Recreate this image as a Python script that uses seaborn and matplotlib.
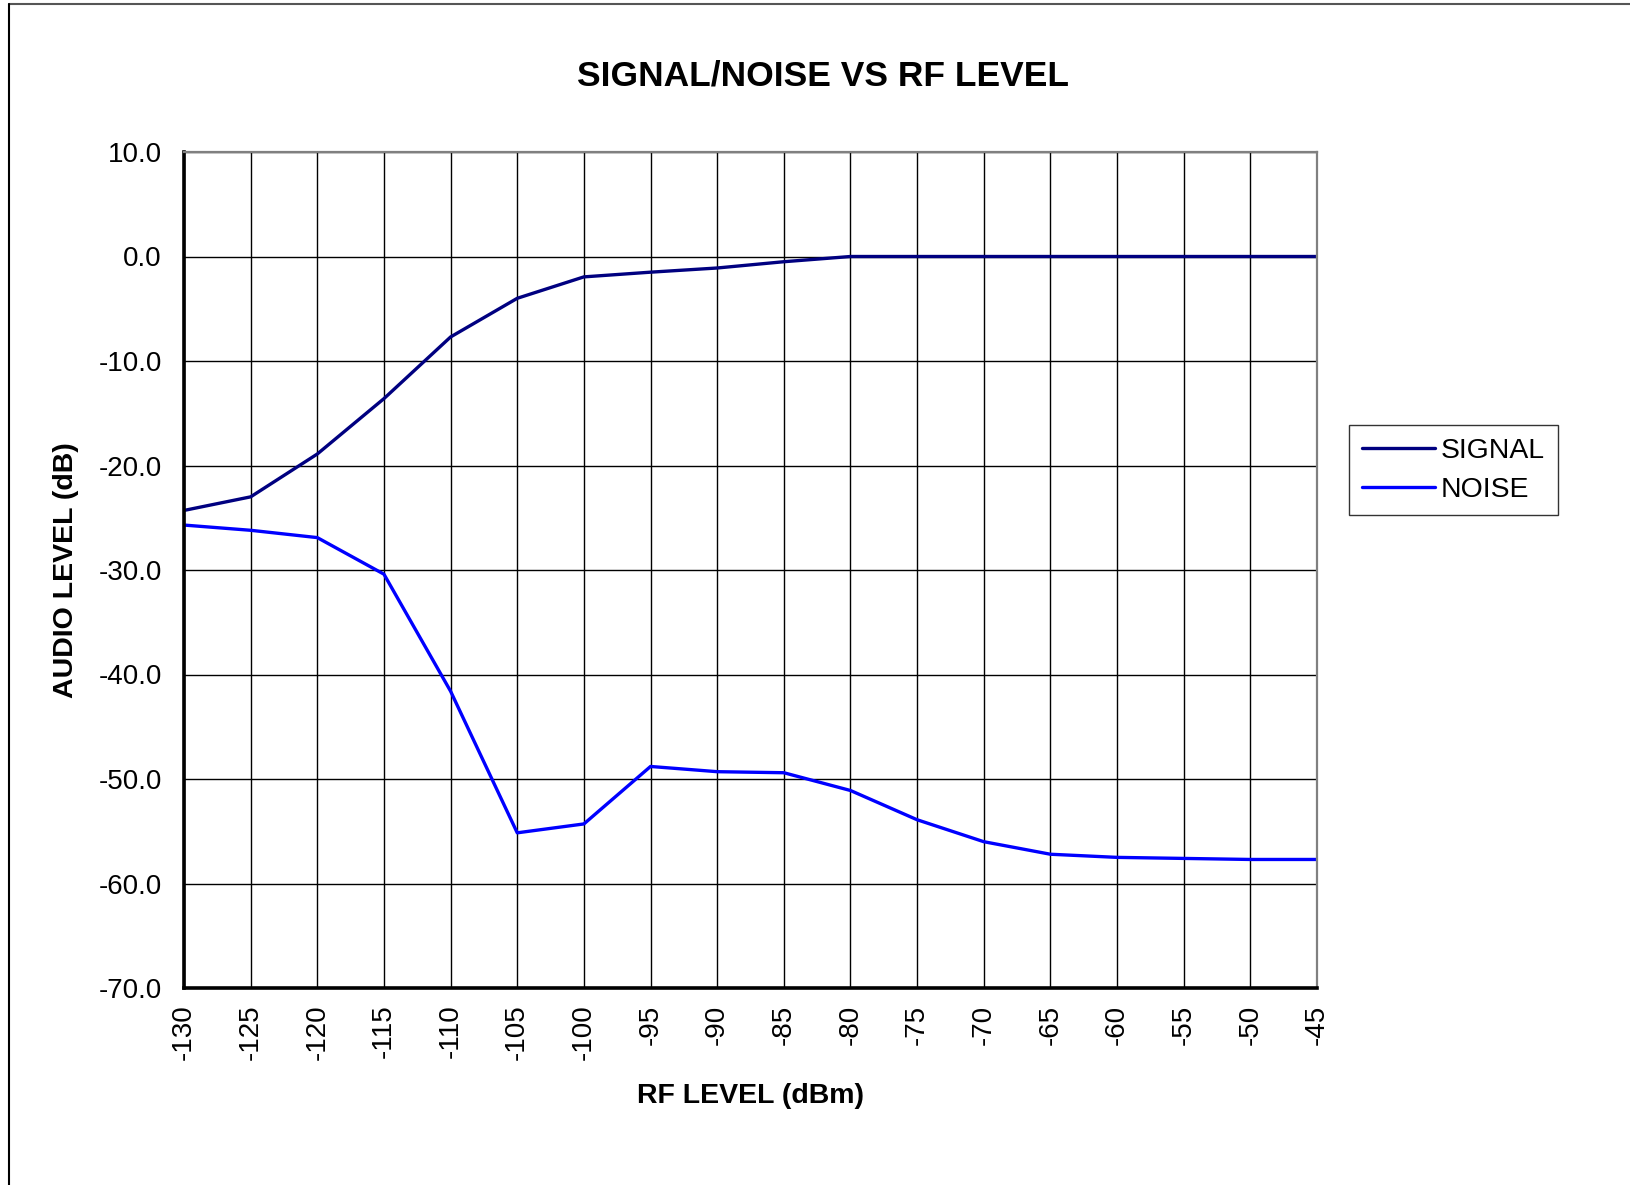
import pandas as pd
import seaborn as sns
import matplotlib.pyplot as plt
from matplotlib.lines import Line2D

# data
rf_level = [-130, -125, -120, -115, -110, -105, -100, -95, -90, -85,
            -80, -75, -70, -65, -60, -55, -50, -45]
signal = [-24.3, -23.0, -18.9, -13.6, -7.7, -4.0, -1.95, -1.5, -1.1, -0.5,
          0.0, 0.0, 0.0, 0.0, 0.0, 0.0, 0.0, 0.0]
noise = [-25.7, -26.2, -26.9, -30.4, -41.6, -55.15, -54.3, -48.8, -49.3, -49.4,
         -51.1, -53.9, -56.0, -57.2, -57.5, -57.6, -57.7, -57.7]
y_ticks = [10, 0, -10, -20, -30, -40, -50, -60, -70]

df = pd.DataFrame({"rf": rf_level, "SIGNAL": signal, "NOISE": noise})
df_long = df.melt(id_vars="rf", var_name="series", value_name="level")

sns.set_style("white")
plt.rcParams["font.family"] = ["Liberation Sans", "DejaVu Sans"]
plt.rcParams["text.color"] = "black"
plt.rcParams["xtick.color"] = "black"
plt.rcParams["ytick.color"] = "black"
plt.rcParams["axes.labelcolor"] = "black"

fig = plt.figure(figsize=(16.31, 11.85), dpi=100)
ax = fig.add_axes([184 / 1631, 1 - 988 / 1185, 1133 / 1631, 836 / 1185])

palette = {"SIGNAL": "#000080", "NOISE": "#0000FF"}
sns.lineplot(data=df_long, x="rf", y="level", hue="series", palette=palette,
             linewidth=2.4, ax=ax, legend=False)

ax.set_xlim(-130, -45)
ax.set_ylim(-70, 10)
ax.set_xticks(rf_level)
ax.set_xticklabels([str(v) for v in rf_level], rotation=90, fontsize=20)
ax.set_yticks(y_ticks)
ax.set_yticklabels([f"{v:.1f}" for v in y_ticks], fontsize=20)
ax.tick_params(axis="y", length=0, pad=16)
ax.tick_params(axis="x", length=0, pad=12)
ax.grid(True, color="black", linewidth=1.0)

for side in ["left", "bottom"]:
    ax.spines[side].set_color("black")
    ax.spines[side].set_linewidth(2.6)
for side in ["top", "right"]:
    ax.spines[side].set_color("#808080")
    ax.spines[side].set_linewidth(1.6)

ax.set_xlabel("RF LEVEL (dBm)", fontsize=20.5, fontweight="bold", labelpad=16)
ax.set_ylabel("AUDIO LEVEL (dB)", fontsize=20.5, fontweight="bold", labelpad=14)

fig.text(823 / 1631, 1 - 85 / 1185, "SIGNAL/NOISE VS RF LEVEL",
         fontsize=25.5, fontweight="bold", ha="center", va="baseline")

handles = [Line2D([], [], color=palette[k], linewidth=2.4) for k in ["SIGNAL", "NOISE"]]
leg = fig.legend(handles, ["SIGNAL", "NOISE"], loc="upper left",
                 bbox_to_anchor=(1349 / 1631, 1 - 425 / 1185), fontsize=20.4,
                 frameon=True, fancybox=False, handlelength=2.6,
                 handletextpad=0.2, borderpad=0.45, labelspacing=0.45,
                 borderaxespad=0)
leg.get_frame().set_edgecolor("black")
leg.get_frame().set_linewidth(1.0)

# outer frame (top and left)
fig.add_artist(Line2D([9 / 1631, 1], [1 - 4 / 1185, 1 - 4 / 1185],
                      color="#555555", linewidth=1.5, transform=fig.transFigure))
fig.add_artist(Line2D([9 / 1631, 9 / 1631], [0, 1 - 4 / 1185],
                      color="black", linewidth=1.5, transform=fig.transFigure))

fig.savefig("out.png", dpi=100, facecolor="white")
